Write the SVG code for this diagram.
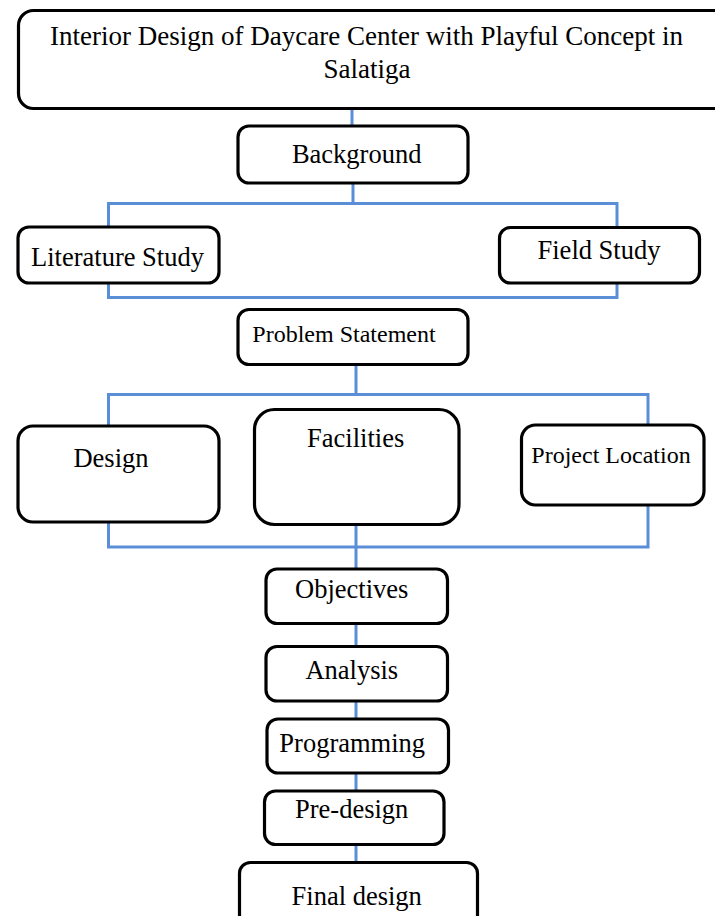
<svg xmlns="http://www.w3.org/2000/svg" width="715" height="916" viewBox="0 0 715 916">
<style>
.box{fill:#fff;stroke:#000;stroke-width:3.2}
.lbl{font-family:"Liberation Serif","Times New Roman",serif;font-size:26.5px;fill:#000;text-anchor:middle}
.sm{font-size:24px}
.ttl{font-size:27px}
.con{fill:none;stroke:#5a8fd8;stroke-width:3}
</style>
<rect width="715" height="916" fill="#fff"/>
<g id="connectors">
<path class="con" d="M352 110V126"/>
<path class="con" d="M353 183V203.5M108.5 227V203.5H617V228"/>
<path class="con" d="M108.5 282V297.5H617V282"/>
<path class="con" d="M356 365V394.5M108.5 426V394.5H648V425"/>
<path class="con" d="M108.5 521V547H648V505"/>
<path class="con" d="M356 524V569"/>
<path class="con" d="M356 623V647M356 701V719M356 773V791M356 844V863"/>
</g>
<g id="title"><rect class="box" x="18.5" y="10.5" width="720" height="98" rx="15"/>
<text class="lbl ttl" x="366.5" y="45">Interior Design of Daycare Center with Playful Concept in</text>
<text class="lbl ttl" x="367" y="78">Salatiga</text></g>
<g id="background"><rect class="box" x="238" y="126" width="230" height="57" rx="11"/><text class="lbl" x="356.7" y="163.3">Background</text></g>
<g id="literature"><rect class="box" x="18" y="227" width="201" height="56" rx="11"/><text class="lbl" x="117.5" y="266">Literature Study</text></g>
<g id="field"><rect class="box" x="499.5" y="227.5" width="200" height="55.5" rx="11"/><text class="lbl" x="599" y="259">Field Study</text></g>
<g id="problem"><rect class="box" x="238" y="309.5" width="230" height="55" rx="11"/><text class="lbl sm" x="344" y="341.7">Problem Statement</text></g>
<g id="design"><rect class="box" x="18" y="426" width="201" height="96" rx="15"/><text class="lbl" x="111" y="466.7">Design</text></g>
<g id="facilities"><rect class="box" x="254.5" y="409.5" width="204.5" height="115" rx="20"/><text class="lbl" x="355.7" y="446.7">Facilities</text></g>
<g id="location"><rect class="box" x="521.5" y="425" width="182.5" height="80" rx="14"/><text class="lbl sm" x="611" y="463.3">Project Location</text></g>
<g id="objectives"><rect class="box" x="266" y="569" width="181.5" height="54.5" rx="11"/><text class="lbl" x="351.7" y="598.3">Objectives</text></g>
<g id="analysis"><rect class="box" x="266" y="646.5" width="181.5" height="54.5" rx="11"/><text class="lbl" x="351.8" y="679.3">Analysis</text></g>
<g id="programming"><rect class="box" x="267" y="719" width="181.5" height="54" rx="11"/><text class="lbl" x="352.2" y="751.7">Programming</text></g>
<g id="predesign"><rect class="box" x="264.5" y="791" width="179.5" height="53.5" rx="11"/><text class="lbl" x="351.7" y="818.3">Pre-design</text></g>
<g id="final"><rect class="box" x="239.5" y="862.5" width="238" height="70" rx="11"/><text class="lbl" x="356.7" y="905">Final design</text></g>
</svg>
